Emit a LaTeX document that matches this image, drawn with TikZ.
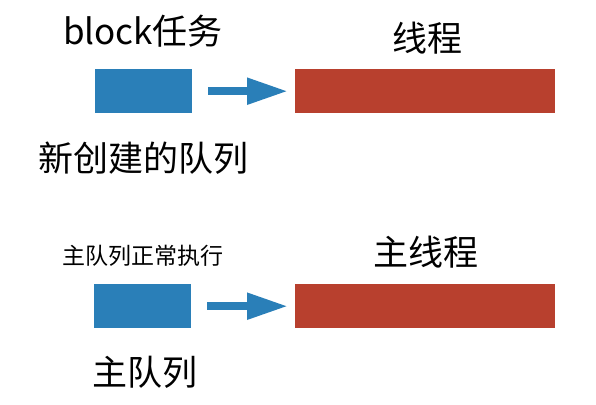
\documentclass[tikz,border=0pt]{standalone}
\usepackage{fontspec}
\setmainfont{Noto Sans CJK SC}
\usetikzlibrary{arrows.meta}
\definecolor{qblue}{RGB}{42,127,184}
\definecolor{qred}{RGB}{184,64,46}
\tikzset{
  bluebox/.style={fill=qblue, draw=none, minimum width=97pt, minimum height=44pt, inner sep=0pt, anchor=north west},
  redbox/.style={fill=qred, draw=none, minimum width=260pt, minimum height=44pt, inner sep=0pt, anchor=north west},
  flow/.style={draw=qblue, line width=8pt, shorten <=16pt, shorten >=7pt, -{Triangle[length=41pt,width=25pt]}},
  bigtxt/.style={font=\fontsize{35pt}{40pt}\selectfont, inner sep=0pt},
  smalltxt/.style={font=\fontsize{23pt}{28pt}\selectfont, inner sep=0pt}
}
\begin{document}
\begin{tikzpicture}[x=1pt,y=1pt]
\useasboundingbox (0,0) rectangle (596,-404);
% top row
\node[bluebox] (b1) at (95,-69) {};
\node[redbox] (r1) at (295,-69) {};
\draw[flow] (b1.east) -- (r1.west);
\node[bigtxt] (t1) at (143,-31) {block任务};
\node[bigtxt] (t2) at (427,-38) {线程};
\node[bigtxt] (t3) at (143,-158) {新创建的队列};
% bottom row
\node[bluebox] (b2) at (94,-284) {};
\node[redbox] (r2) at (295,-284) {};
\draw[flow] (b2.east) -- (r2.west);
\node[smalltxt] (t4) at (143,-256) {主队列正常执行};
\node[bigtxt] (t5) at (426,-252) {主线程};
\node[bigtxt] (t6) at (145,-372) {主队列};
\end{tikzpicture}
\end{document}
